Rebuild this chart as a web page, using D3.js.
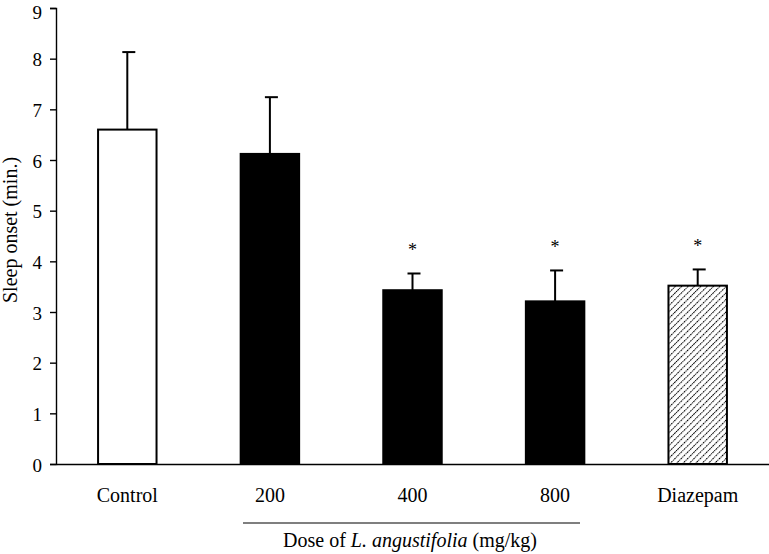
<!DOCTYPE html>
<html><head><meta charset="utf-8">
<script src="https://cdn.jsdelivr.net/npm/d3@7"></script>
<style>body{margin:0;background:#fff}svg{display:block}</style>
</head><body>
<script>
const categories = ["Control","200","400","800","Diazepam"];
const means = [6.6, 6.12, 3.43, 3.21, 3.52];
const errors = [1.53, 1.12, 0.33, 0.61, 0.32];
const fills = ["white","black","black","black","hatch"];
const significant = [false,false,true,true,true];
const yTicks = [0,1,2,3,4,5,6,7,8,9];

const W=769,H=554;
const FONT="'Liberation Serif', 'Times New Roman', serif";
const svg=d3.select("body").append("svg").attr("width",W).attr("height",H).style("font-family",FONT);
const defs=svg.append("defs");
const pat=defs.append("pattern").attr("id","hatch").attr("patternUnits","userSpaceOnUse")
  .attr("width",4.5).attr("height",4.5).attr("patternTransform","rotate(45)");
pat.append("rect").attr("width",4.5).attr("height",4.5).attr("fill","white");
pat.append("line").attr("x1",0).attr("y1",0).attr("x2",0).attr("y2",4.5).attr("stroke","#000").attr("stroke-width",2).attr("stroke-dasharray","1.2,0.6");

const x=d3.scaleBand().domain(categories).range([56,769]).paddingInner(0.59).paddingOuter(0.295);
const y=d3.scaleLinear().domain([0,9]).range([464,8]);

const ya=svg.append("g").attr("transform","translate(56,0)")
  .call(d3.axisLeft(y).tickValues(yTicks).tickSize(6).tickPadding(8).tickFormat(d3.format("d")));
ya.select(".domain").attr("stroke","black").attr("stroke-width",1.4);
ya.selectAll(".tick line").attr("stroke","black").attr("stroke-width",1.4);
ya.selectAll(".tick text").style("font-family",FONT).style("font-size","19px").attr("fill","black")
  .attr("dy",d=>d===9?"0.55em":"0.38em");

const xa=svg.append("g").attr("transform","translate(0,464)")
  .call(d3.axisBottom(x).tickSize(0).tickPadding(24).tickSizeOuter(0));
xa.select(".domain").attr("stroke","black").attr("stroke-width",1.4);
xa.selectAll(".tick text").style("font-family",FONT).style("font-size","20px").attr("fill","black");

const data=categories.map((c,i)=>({c,m:means[i],e:errors[i],f:fills[i],s:significant[i]}));
const g=svg.append("g");
data.forEach(d=>{
  const cx=x(d.c)+x.bandwidth()/2;
  g.append("line").attr("x1",cx).attr("x2",cx).attr("y1",y(d.m)).attr("y2",y(d.m+d.e)).attr("stroke","black").attr("stroke-width",2);
  g.append("line").attr("x1",cx-5).attr("x2",cx+8).attr("y1",y(d.m+d.e)).attr("y2",y(d.m+d.e)).attr("stroke","black").attr("stroke-width",2);
  if(d.s) g.append("text").attr("x",cx).attr("y",y(d.m+d.e)-17).attr("text-anchor","middle").style("font-size","18px").style("font-family",FONT).text("*");
});
g.selectAll("rect.bar").data(data).join("rect").attr("class","bar")
  .attr("x",d=>x(d.c)).attr("width",x.bandwidth())
  .attr("y",d=>y(d.m)).attr("height",d=>y(0)-y(d.m))
  .attr("fill",d=>d.f==="hatch"?"url(#hatch)":d.f)
  .attr("stroke","black").attr("stroke-width",2);

svg.append("text").attr("transform","translate(17,230) rotate(-90)").attr("text-anchor","middle").style("font-size","20px").style("font-family",FONT).text("Sleep onset (min.)");
svg.append("line").attr("x1",243).attr("x2",580).attr("y1",523).attr("y2",523).attr("stroke","black").attr("stroke-width",1.2);
const t=svg.append("text").attr("x",410).attr("y",547).attr("text-anchor","middle").style("font-size","20px").style("font-family",FONT);
t.append("tspan").text("Dose of ");
t.append("tspan").style("font-style","italic").text("L. angustifolia");
t.append("tspan").text(" (mg/kg)");
</script>
</body></html>
